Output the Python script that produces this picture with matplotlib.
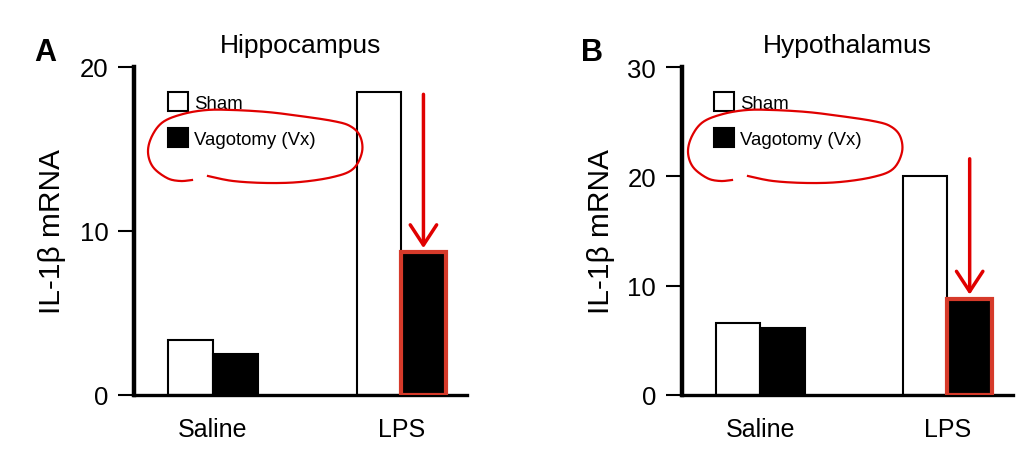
import numpy as np
import matplotlib
matplotlib.use("Agg")
import matplotlib.pyplot as plt
from matplotlib.patches import Patch
from matplotlib.lines import Line2D

plt.rcParams["font.family"] = ["Liberation Sans", "DejaVu Sans"]

# -------------------------------------------------
# Data
# -------------------------------------------------
groups = ["Saline", "LPS"]
series = ["Sham", "Vagotomy (Vx)"]
panel_titles = ["Hippocampus", "Hypothalamus"]
panel_letters = ["A", "B"]

hippo_sham = [3.35, 18.5]
hippo_vx = [2.5, 8.7]
hypo_sham = [6.55, 20.0]
hypo_vx = [6.1, 8.8]

ylims = [20, 30]
yticks = [[0, 10, 20], [0, 10, 20, 30]]

# -------------------------------------------------
# Style
# -------------------------------------------------
W, H = 1033, 464
RED = "#e00000"
BOX = "#d63a2a"
bar_w = 0.237


def smooth(pts, n=14):
    # Catmull-Rom through the hand-drawn loop points
    pts = np.asarray(pts, float)
    p = np.vstack([pts[0], pts, pts[-1]])
    out = []
    t = np.linspace(0, 1, n, endpoint=False)[:, None]
    for i in range(1, len(p) - 2):
        p0, p1, p2, p3 = p[i - 1], p[i], p[i + 1], p[i + 2]
        out.append(0.5 * (2 * p1 + (-p0 + p2) * t
                          + (2 * p0 - 5 * p1 + 4 * p2 - p3) * t ** 2
                          + (-p0 + 3 * p1 - 3 * p2 + p3) * t ** 3))
    out.append(p[-2][None])
    return np.vstack(out)


# loop around the legend entry, in image pixels (panel A)
loop_px = [(208, 177), (233, 182), (267, 184), (300, 183), (333, 178),
           (353, 170), (362, 153), (360, 137), (350, 127), (333, 122),
           (300, 117), (267, 113), (233, 111), (207, 111), (183, 115),
           (163, 123), (152, 137), (148, 153), (153, 168), (167, 179),
           (180, 182), (192, 181)]
loop = smooth(loop_px)

fig = plt.figure(figsize=(W / 100, H / 100), dpi=100)

axes_pos = [
    [134 / W, 1 - 396 / H, 333 / W, 328 / H],
    [681.7 / W, 1 - 396 / H, 331.3 / W, 328 / H],
]
label_x = [-0.205, -0.2]
legend_x = [0.102, 0.0975]
letter_x = [45, 592]
loop_dx = [0, 540]
arrow_len = [158, 140]

data = [(hippo_sham, hippo_vx), (hypo_sham, hypo_vx)]

for k in range(2):
    sham, vx = data[k]
    ax = fig.add_axes(axes_pos[k])
    x = np.arange(len(groups))

    ax.bar(x - bar_w / 2, sham, bar_w, facecolor="white",
           edgecolor="black", linewidth=1.5, zorder=2)
    bars_vx = ax.bar(x + bar_w / 2, vx, bar_w, facecolor="black",
                     edgecolor="black", linewidth=1.5, zorder=2)
    # highlight the LPS vagotomy bar
    bars_vx[1].set_edgecolor(BOX)
    bars_vx[1].set_linewidth(3.0)
    bars_vx[1].set_zorder(3)

    ax.set_xlim(-0.42, 1.35)
    ax.set_ylim(0, ylims[k])
    ax.set_yticks(yticks[k])
    ax.set_xticks(x)
    ax.set_xticklabels(groups)

    for s in ["top", "right"]:
        ax.spines[s].set_visible(False)
    ax.spines["left"].set_linewidth(3.2)
    ax.spines["bottom"].set_linewidth(2.4)
    ax.tick_params(axis="y", length=11.5, width=1.5, pad=7,
                   labelsize=18.5)
    ax.tick_params(axis="x", length=0, pad=16, labelsize=18)

    ax.set_ylabel("IL-1β mRNA", fontsize=21.5)
    ax.yaxis.set_label_coords(label_x[k], 0.5)
    ax.set_title(panel_titles[k], fontsize=19, pad=11)

    handles = [Patch(facecolor="white", edgecolor="black", linewidth=1.5),
               Patch(facecolor="black", edgecolor="black", linewidth=1.5)]
    ax.legend(handles, series, loc="upper left",
              bbox_to_anchor=(legend_x[k], 0.923), frameon=False,
              fontsize=13.4, handlelength=1.05, handleheight=1.2,
              handletextpad=0.35, labelspacing=0.85, borderpad=0,
              borderaxespad=0)

    # red arrow pointing at the LPS vagotomy bar
    ax.annotate("", xy=(x[1] + bar_w / 2, vx[1]), xycoords="data",
                xytext=(0, arrow_len[k]), textcoords="offset pixels",
                arrowprops=dict(arrowstyle="->,head_length=1.45,head_width=0.95",
                                color=RED, lw=2.5, shrinkA=0, shrinkB=3,
                                mutation_scale=10),
                zorder=5)

    # red loop round the legend
    lx = (loop[:, 0] + loop_dx[k]) / W
    ly = 1 - loop[:, 1] / H
    fig.add_artist(Line2D(lx, ly, color=RED, lw=1.6,
                          transform=fig.transFigure, zorder=6))

    fig.text(letter_x[k] / W, 1 - 53 / H, panel_letters[k],
             fontsize=22, fontweight="bold", ha="center", va="center")

fig.savefig("out.png", dpi=100)
